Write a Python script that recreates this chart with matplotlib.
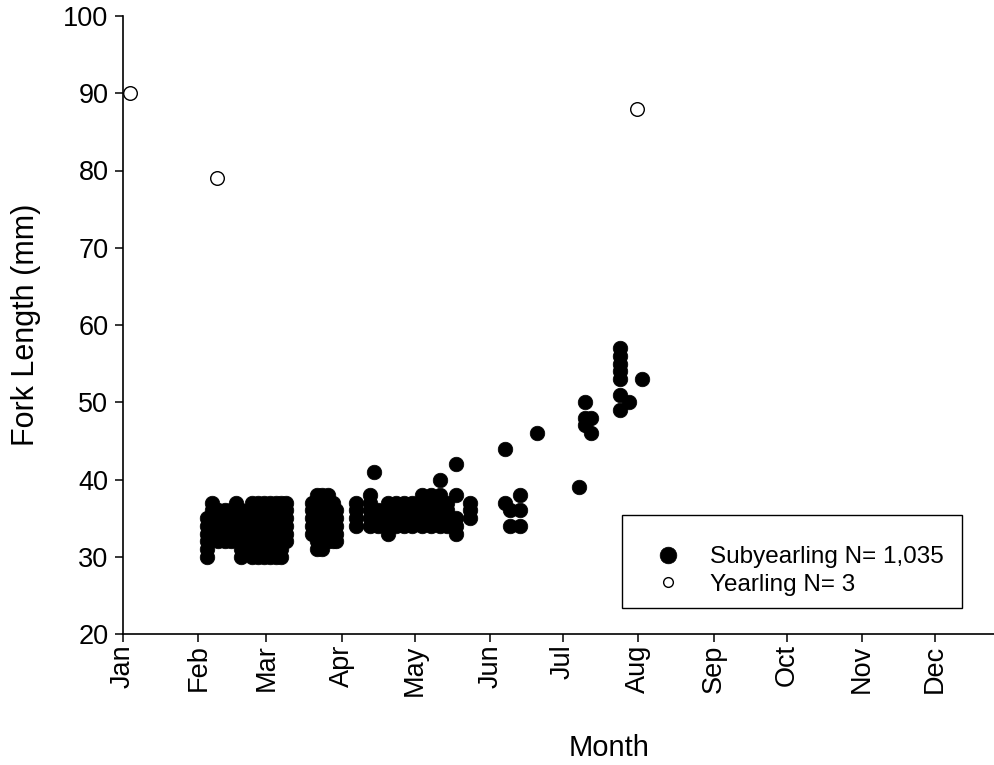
import matplotlib
matplotlib.use("Agg")
import matplotlib.pyplot as plt
from matplotlib.patches import Rectangle

plt.rcParams['font.family'] = ['Liberation Sans', 'DejaVu Sans']

# ---- data (day of year, fork length in mm) ----
month_labels = ["Jan", "Feb", "Mar", "Apr", "May", "Jun",
                "Jul", "Aug", "Sep", "Oct", "Nov", "Dec"]
month_start_days = [0, 31, 59, 90, 120, 151, 181, 212, 243, 273, 304, 334]

# Subyearling: sampling days and the fork lengths recorded on each day
sub_days = [34.5, 36.6, 39, 42, 44.5, 46.5, 48.5, 50.6, 53, 55.5, 58, 60.5,
            63, 65, 67,
            77.7, 79.8, 82, 84.3, 86.4, 87.6,
            96, 101.6, 103.2, 105, 109, 112.3, 115.6, 119, 123, 126.7, 130.4,
            133.3, 137, 142.7,
            157, 159, 163.3, 170.3, 187.6, 190, 192.5, 204.4, 208.1, 213.5]
sub_lengths = [
    [30, 31, 32, 33, 34, 35],
    [33, 34, 35, 36, 37],
    [32, 33, 34, 35, 36],
    [32, 33, 34, 35, 36],
    [32, 33, 34, 35, 36],
    [33, 34, 35, 36, 37],
    [30, 31, 32, 33, 34, 35, 36],
    [31, 32, 33, 34, 35],
    [30, 31, 32, 33, 34, 35, 36, 37],
    [30, 31, 32, 33, 34, 35, 36, 37],
    [30, 31, 32, 33, 34, 35, 36, 37],
    [30, 31, 32, 33, 34, 35, 36, 37],
    [30, 31, 32, 33, 34, 35, 36, 37],
    [30, 31, 32, 33, 34, 35, 36, 37],
    [32, 33, 34, 35, 36, 37],
    [33, 34, 35, 36, 37],
    [31, 32, 33, 34, 35, 36, 37, 38],
    [31, 32, 33, 34, 35, 36, 37, 38],
    [32, 33, 34, 35, 36, 37, 38],
    [32, 33, 34, 35, 36, 37],
    [32, 33, 34, 35, 36],
    [34, 35, 36, 37],
    [34, 35, 36, 37, 38],
    [41],
    [34, 35, 36],
    [33, 34, 35, 36, 37],
    [34, 35, 36, 37],
    [34, 35, 36, 37],
    [34, 35, 36, 37],
    [34, 35, 36, 37, 38],
    [34, 35, 36, 37, 38],
    [34, 35, 36, 37, 38, 40],
    [34, 35, 36, 37],
    [33, 34, 35, 38, 42],
    [35, 36, 37],
    [37, 44],
    [34, 36],
    [34, 36, 38],
    [46],
    [39],
    [47, 48, 50],
    [46, 48],
    [49, 51, 53, 54, 55, 56, 57],
    [50],
    [53],
]

# Yearling
year_days = [3, 38.7, 211.4]
year_lengths = [90, 79, 88]

sub_label = "Subyearling N= 1,035"
year_label = "Yearling N= 3"

# ---- figure ----
fig = plt.figure(figsize=(9.95, 7.65), dpi=100)
ax = fig.add_axes([123/995, 131/765, 872/995, 618/765])

xs, ys = [], []
for d, lens in zip(sub_days, sub_lengths):
    for v in lens:
        xs.append(d)
        ys.append(v)

ax.plot(xs, ys, ls='none', marker='o', ms=10.5, mfc='black', mec='black',
        mew=0.5, label=sub_label, zorder=3)
ax.plot(year_days, year_lengths, ls='none', marker='o', ms=9.8, mfc='white',
        mec='black', mew=1.0, label=year_label, zorder=3)

ax.set_xlim(0, 358.7)
ax.set_ylim(20, 100)
ax.set_xticks(month_start_days)
ax.set_xticklabels(month_labels, rotation=90)
ax.set_yticks(range(20, 101, 10))

for s in ['top', 'right']:
    ax.spines[s].set_visible(False)
for s in ['left', 'bottom']:
    ax.spines[s].set_linewidth(1.2)
ax.tick_params(axis='both', direction='out', length=6, width=1.1,
               labelsize=19.5)
ax.tick_params(axis='y', pad=4.5)
ax.tick_params(axis='x', pad=1.5)

fig.text(26/995, 1 - 325/765, "Fork Length (mm)", rotation=90,
         ha='center', va='center', fontsize=22)
fig.text(609.5/995, 1 - 748/765, "Month", ha='center', va='center',
         fontsize=21)

# legend frame
ax.add_patch(Rectangle(((622-123)/872, (634-608)/618), 340/872, 93/618,
                       transform=ax.transAxes, fill=False, ec='black',
                       lw=1.0, zorder=4))
fs_leg = 17.5
fs_px = fs_leg * 100 / 72
leg = ax.legend(loc='center left',
                bbox_to_anchor=((668 - 0.5 * fs_px - 123)/872, (634-571)/618),
                frameon=False, fontsize=fs_leg, borderpad=0, borderaxespad=0,
                handlelength=1.0,
                handletextpad=(710 - 668 - 0.5 * fs_px) / fs_px,
                labelspacing=0.22, numpoints=1)
hs = leg.legend_handles
hs[0].set_markersize(12)
hs[1].set_markersize(7)

fig.savefig("out.png", dpi=100)
